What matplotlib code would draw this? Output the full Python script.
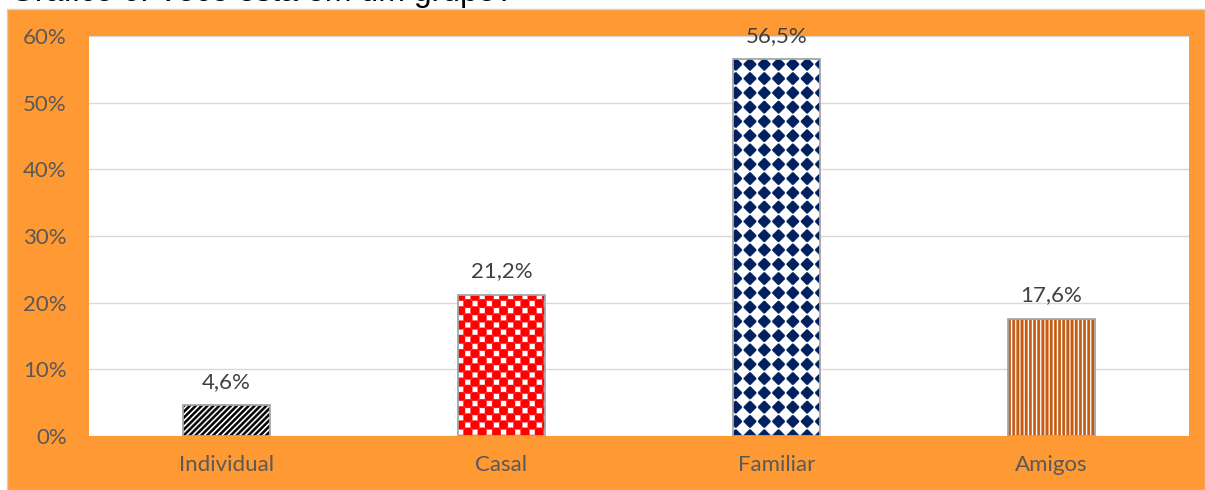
import warnings
import numpy as np
import matplotlib
matplotlib.use("Agg")
import matplotlib.pyplot as plt
import matplotlib.hatch as mhatch
from matplotlib.path import Path
from matplotlib.patches import Rectangle
from matplotlib.ticker import PercentFormatter

warnings.filterwarnings("ignore")

# Données du graphique
TITRE = "Gráfico 6: Você está em um grupo?"
CATEGORIES = ["Individual", "Casal", "Familiar", "Amigos"]
VALEURS = [4.6, 21.2, 56.5, 17.6]
YTICKS = [0, 10, 20, 30, 40, 50, 60]

# Styles (motif de remplissage et couleur de chaque barre)
MOTIFS = ["r", "c", "d", "v"]
COULEURS = ["#000000", "#FF0000", "#002060", "#C55A11"]


# Motifs de hachure maison (polygones pleins dans une tuile unité)
class Motif(mhatch.HatchPatternBase):
    lettre = None
    filled = True

    def __init__(self, hatch, density):
        self.polys = self.polygones() if (hatch and self.lettre in hatch) else []
        self.num_vertices = sum(len(p) + 1 for p in self.polys)

    def polygones(self):
        return []

    def set_vertices_and_codes(self, vertices, codes):
        i = 0
        for p in self.polys:
            n = len(p)
            vertices[i:i + n] = p
            vertices[i + n] = p[0]
            codes[i] = Path.MOVETO
            codes[i + 1:i + n] = Path.LINETO
            codes[i + n] = Path.CLOSEPOLY
            i += n + 1


class RayuresObliques(Motif):
    lettre = "r"

    def polygones(self):
        n, w = 17, 0.5
        return [[(k / n, 0), ((k + w) / n, 0), ((k + w) / n + 1, 1), (k / n + 1, 1)]
                for k in range(-n - 1, n + 1)]


class RayuresVerticales(Motif):
    lettre = "v"

    def polygones(self):
        n, w = 24, 0.58
        return [[(k / n, 0), ((k + w) / n, 0), ((k + w) / n, 1), (k / n, 1)]
                for k in range(n)]


class Damier(Motif):
    lettre = "c"

    def polygones(self):
        m, a, c = 14, 0.6, 0.25
        forme = [(a, -a + c), (a, a - c), (a - c, a), (-a + c, a),
                 (-a, a - c), (-a, -a + c), (-a + c, -a), (a - c, -a)]
        polys = []
        for i in range(-1, m + 1):
            for j in range(-1, m + 1):
                if (i + j) % 2 == 0:
                    cx, cy = (i + 0.5) / m, (j + 0.5) / m
                    polys.append([(cx + u / m, cy + v / m) for u, v in forme])
        return polys


class Losanges(Motif):
    lettre = "d"

    def polygones(self):
        n, h, t = 7, 0.43, 0.04
        forme = [(h, -t), (h, t), (t, h), (-t, h), (-h, t), (-h, -t), (-t, -h), (t, -h)]
        polys = []
        for i in range(n):
            for j in range(n):
                cx, cy = (i + 0.5) / n, (j + 0.5) / n
                polys.append([(cx + u / n, cy + v / n) for u, v in forme])
        return polys


mhatch._hatch_types.extend([RayuresObliques, RayuresVerticales, Damier, Losanges])
plt.rcParams["hatch.linewidth"] = 0.3
plt.rcParams["font.family"] = ["Lato", "DejaVu Sans"]


def main():
    fig = plt.figure(figsize=(12.05, 4.9), dpi=100)
    W, H = 1205, 490

    # cadre orange
    fig.add_artist(Rectangle((7 / W, 0), (W - 7) / W, (H - 9) / H,
                             transform=fig.transFigure, facecolor="#FF9933",
                             edgecolor="#D0D0D0", linewidth=1, zorder=-1))

    # titre (coupé en haut de l'image, comme dans l'original)
    fig.text(10 / W, 1 - 1.5 / H, TITRE, family="Liberation Sans",
             fontsize=23, color="black", va="baseline", ha="left")

    ax = fig.add_axes([89 / W, (H - 436) / H, 1100 / W, 400 / H])
    ax.set_facecolor("white")

    x = np.arange(len(CATEGORIES))
    largeur = 0.316
    barres = ax.bar(x, VALEURS, width=largeur, color="white", linewidth=0, zorder=2)
    for b, motif, coul in zip(barres, MOTIFS, COULEURS):
        b.set_hatch(motif)
        b.set_edgecolor(coul)
    ax.bar(x, VALEURS, width=largeur, facecolor="none", edgecolor="#A6A6A6",
           linewidth=1.3, zorder=3)

    for xi, v in zip(x, VALEURS):
        ax.annotate(f"{v:.1f}%".replace(".", ","), (xi, v), xytext=(0, 12.5),
                    textcoords="offset points", ha="center", va="baseline",
                    fontsize=16, color="#404040")

    ax.set_xlim(-0.5, len(CATEGORIES) - 0.5)
    ax.set_ylim(0, 60)
    ax.set_yticks(YTICKS)
    ax.yaxis.set_major_formatter(PercentFormatter(xmax=100, decimals=0))
    ax.set_xticks(x)
    ax.set_xticklabels(CATEGORIES)
    ax.tick_params(length=0, labelsize=16, labelcolor="#595959")
    ax.tick_params(axis="y", pad=16)
    ax.tick_params(axis="x", pad=14)

    ax.yaxis.grid(True, color="#D9D9D9", linewidth=1.0)
    ax.set_axisbelow(True)
    for s in ax.spines.values():
        s.set_visible(False)

    fig.savefig("out.png", dpi=100)


if __name__ == "__main__":
    main()
